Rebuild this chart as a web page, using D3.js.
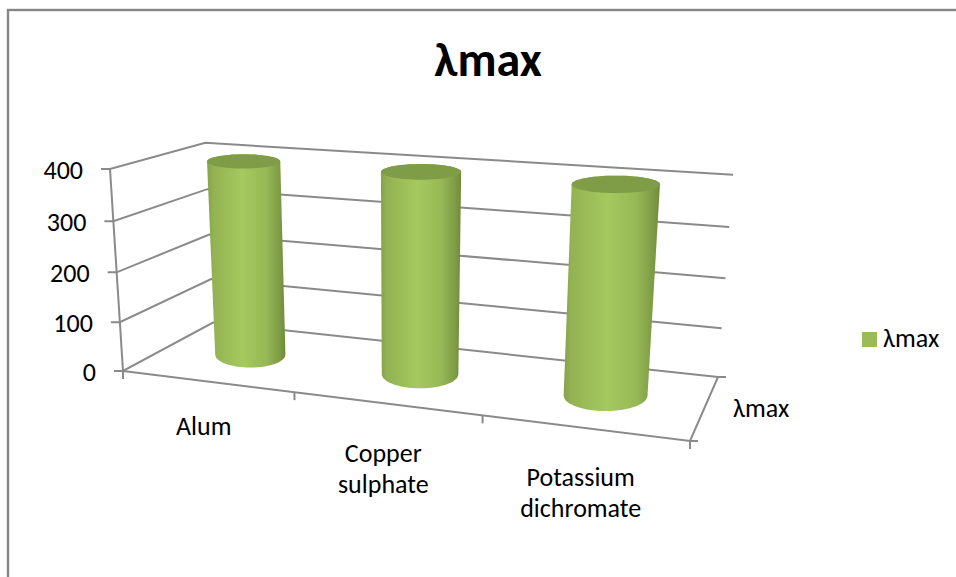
<!DOCTYPE html>
<html>
<head>
<meta charset="utf-8">
<script src="https://cdnjs.cloudflare.com/ajax/libs/d3/7.8.5/d3.min.js"></script>
<style>
  html, body { margin: 0; padding: 0; background: #fff; }
  text { font-family: Carlito, Lato, "Noto Sans", sans-serif; fill: #000; }
</style>
</head>
<body>
<svg id="chart"></svg>
<script>
const categories = [["Alum"], ["Copper", "sulphate"], ["Potassium", "dichromate"]];
const values = [398, 400, 400];
const yTicks = [0, 100, 200, 300, 400];
const seriesName = "λmax";

const width = 956, height = 577;
const svg = d3.select("#chart").attr("width", width).attr("height", height);

// floor corners of the 3D box as pixels: front-left, front-right, back-right, back-left
const corner = [[123, 371], [690, 441], [718, 377], [213, 322.6]];
const topFrontLeft = [110, 169];
const lean = -0.045;

// perspective map (u along the categories, w into the depth, t up the value axis)
const [p0, p1, p2, p3] = corner;
const sx = p0[0] - p1[0] + p2[0] - p3[0], sy = p0[1] - p1[1] + p2[1] - p3[1];
const dx1 = p1[0] - p2[0], dx2 = p3[0] - p2[0], dy1 = p1[1] - p2[1], dy2 = p3[1] - p2[1];
const det = dx1 * dy2 - dx2 * dy1;
const g = (sx * dy2 - dx2 * sy) / det, h = (dx1 * sy - sx * dy1) / det;
const a = p1[0] - p0[0] + g * p1[0], b = p3[0] - p0[0] + h * p3[0];
const d = p1[1] - p0[1] + g * p1[1], e = p3[1] - p0[1] + h * p3[1];
const c = topFrontLeft[0] * (1 + lean) - p0[0], f = topFrontLeft[1] * (1 + lean) - p0[1];

function project(u, w, t) {
    const den = 1 + g * u + h * w + lean * t;
    return [(p0[0] + a * u + b * w + c * t) / den, (p0[1] + d * u + e * w + f * t) / den];
}

const yScale = d3.scaleLinear().domain([0, 400]).range([0, 1]);
const xScale = d3.scaleBand().domain(d3.range(categories.length)).range([0, 1]);
const line = d3.line();
const gridColor = "#8a8a8a";

// outer frame, runs off the picture on the right and bottom
svg.append("rect").attr("x", 8).attr("y", 10).attr("width", 1100).attr("height", 800)
    .attr("fill", "#fff").attr("stroke", "#868686").attr("stroke-width", 2.4);

const defs = svg.append("defs");
defs.append("filter").attr("id", "soft").append("feGaussianBlur").attr("stdDeviation", 0.45);

// walls and floor
const grid = svg.append("g").attr("fill", "none").attr("stroke", gridColor).attr("stroke-width", 2).attr("filter", "url(#soft)");
yTicks.forEach(v => {
    const t = yScale(v);
    const fl = project(0, 0, t);
    grid.append("path").attr("d", line([[fl[0] - 9, fl[1]], fl, project(0, 1, t), project(1, 1, t)]));
});
grid.append("path").attr("d", line([project(0, 0, 0), project(0, 0, 1)]));
grid.append("path").attr("d", line([project(0, 0, 0), project(1, 0, 0), project(1, 1, 0)]));

// tick marks on the floor edges
const floorTicks = d3.range(categories.length + 1).map(i => i / categories.length);
floorTicks.forEach(u => {
    const pt = project(u, 0, 0);
    grid.append("path").attr("d", line([pt, [pt[0], pt[1] + 8]]));
});
[0, 1].forEach(w => {
    const pt = project(1, w, 0);
    grid.append("path").attr("d", line([pt, [pt[0] + 8, pt[1]]]));
});

// cylinders, the end caps stay level on screen like the original
const ru = 0.072, rw = 0.26;
const angles = d3.range(0, 360, 6).map(x => x * Math.PI / 180);
const cylinders = svg.append("g").attr("filter", "url(#soft)");
values.forEach((v, i) => {
    const uc = xScale(i) + xScale.bandwidth() / 2, wc = 0.5, t = yScale(v);
    const ring = tt => {
        const mid = project(uc, wc, tt);
        const rx = (project(uc + ru, wc, tt)[0] - project(uc - ru, wc, tt)[0]) / 2;
        const ry = (project(uc, wc - rw, tt)[1] - project(uc, wc + rw, tt)[1]) / 2;
        return angles.map(an => [mid[0] + rx * Math.cos(an), mid[1] + ry * Math.sin(an)]);
    };
    const base = ring(0), lid = ring(t);
    const hull = d3.polygonHull(base.concat(lid));
    const x0 = d3.min(hull, q => q[0]), x1 = d3.max(hull, q => q[0]);

    const grad = defs.append("linearGradient").attr("id", "side" + i)
        .attr("gradientUnits", "userSpaceOnUse")
        .attr("x1", x0).attr("x2", x1).attr("y1", 0).attr("y2", 0);
    [[0, "#86a24c"], [0.08, "#93b252"], [0.45, "#a5c95f"], [0.75, "#97b956"], [0.92, "#7f9c46"], [1, "#6f8b3c"]]
        .forEach(s => grad.append("stop").attr("offset", s[0]).attr("stop-color", s[1]));

    cylinders.append("path").attr("d", line(hull) + "Z").attr("fill", `url(#side${i})`);
    cylinders.append("path").attr("d", line(lid) + "Z").attr("fill", "#7f9d47");
});

// value labels
svg.append("g").attr("text-anchor", "end").attr("font-size", 26)
    .selectAll("text").data(yTicks).join("text")
    .attr("x", v => project(0, 0, yScale(v))[0] - 27)
    .attr("y", v => project(0, 0, yScale(v))[1] + 9.5)
    .text(v => v);

// category labels
categories.forEach((lines, i) => {
    const uc = xScale(i) + xScale.bandwidth() / 2;
    const pt = project(uc, 0, 0);
    const label = svg.append("text").attr("text-anchor", "middle").attr("font-size", 26);
    const top = pt[1] + 58 - (lines.length === 1 ? 4 : 0);
    lines.forEach((s, k) => {
        label.append("tspan").attr("x", pt[0] - 3).attr("y", top + k * 31.5).text(s);
    });
});

// depth label, legend, title
const br = project(1, 0.5, 0);
svg.append("text").attr("x", 733).attr("y", br[1] + 10).attr("font-size", 26).text(seriesName);
svg.append("rect").attr("x", 862).attr("y", 332).attr("width", 15).attr("height", 15).attr("fill", "#9bbb59");
svg.append("text").attr("x", 883).attr("y", 347).attr("font-size", 26).text(seriesName);
svg.append("text").attr("x", 488).attr("y", 76).attr("text-anchor", "middle")
    .attr("font-size", 48).attr("font-weight", "bold").text(seriesName);
</script>
</body>
</html>
